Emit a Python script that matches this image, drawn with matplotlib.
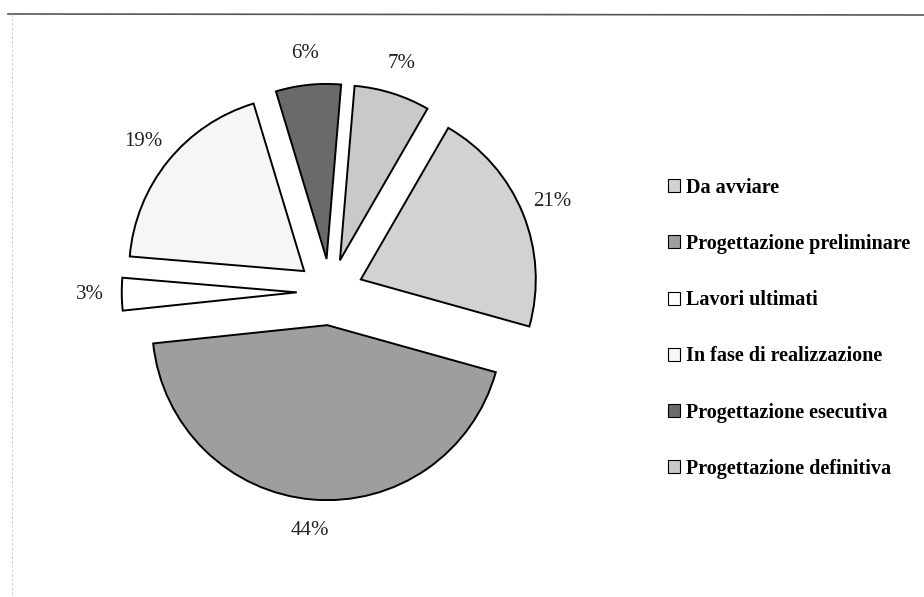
import matplotlib.pyplot as plt
from matplotlib.lines import Line2D
from matplotlib.patches import Patch

# data in drawing order (clockwise, starting at the 21% slice)
labels = ['Da avviare', 'Progettazione preliminare', 'Lavori ultimati',
          'In fase di realizzazione', 'Progettazione esecutiva',
          'Progettazione definitiva']
values = [21, 44, 3, 19, 6, 7]
colors = ['#d2d2d2', '#9e9e9e', '#ffffff', '#f6f6f6', '#6a6a6a', '#c9c9c9']

plt.rcParams['font.family'] = ['Liberation Serif', 'DejaVu Serif']

fig = plt.figure(figsize=(9.24, 5.97), dpi=100)
ax = fig.add_axes([0, 0, 1, 1])

R = 175
wedges, texts, autotexts = ax.pie(
    values, colors=colors, explode=[0.19 * R] * len(values),
    startangle=60, counterclock=False, center=(330, 305), radius=R,
    autopct='%1.0f%%', pctdistance=1.18,
    wedgeprops=dict(edgecolor='black', linewidth=1.4),
    textprops=dict(fontsize=15, color='#222222'))

ax.set_xlim(0, 924)
ax.set_ylim(0, 597)
ax.set_aspect('equal')
ax.axis('off')

handles = [Patch(facecolor=c, edgecolor='black', linewidth=0.8) for c in colors]
leg = ax.legend(handles, labels, loc='center left',
                bbox_to_anchor=(650 / 924, 0.45), frameon=False,
                prop=dict(family='Liberation Serif', weight='bold', size=14.5),
                handlelength=0.6, handleheight=0.6, handletextpad=0.3,
                labelspacing=1.8)

# scanned frame edges
fig.add_artist(Line2D([8 / 924, 1], [583 / 597, 582 / 597], color='#555555', lw=1.2))
fig.add_artist(Line2D([12 / 924, 12 / 924], [583 / 597, 0], color='#cccccc', lw=0.8,
                      linestyle=(0, (2, 2))))

fig.savefig('out.png', dpi=100)
